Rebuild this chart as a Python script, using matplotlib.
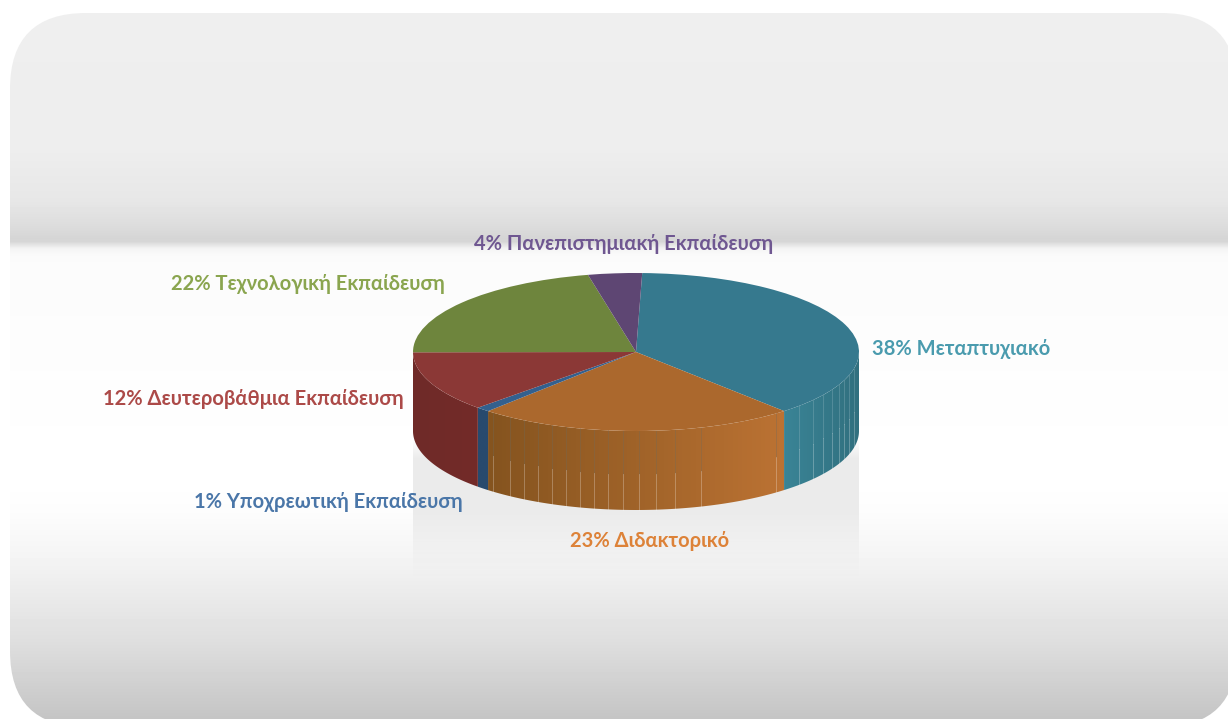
import numpy as np
import matplotlib
matplotlib.use("Agg")
import matplotlib.pyplot as plt
from matplotlib.colors import LinearSegmentedColormap
from matplotlib.patches import FancyBboxPatch, Polygon

W, H = 1228, 719

# Data
names = ["Μεταπτυχιακό", "Διδακτορικό", "Υποχρεωτική Εκπαίδευση",
         "Δευτεροβάθμια Εκπαίδευση", "Τεχνολογική Εκπαίδευση",
         "Πανεπιστημιακή Εκπαίδευση"]
values = [38.0, 23.1, 1.0, 12.4, 21.6, 3.9]  # slice sizes as drawn
percent_labels = [38, 23, 1, 12, 22, 4]

top_colors = ["#36798e", "#ab682d", "#33608e", "#8b3836", "#6e853d", "#5e4673"]
wall_left = ["#3a8496", "#85541f", "#284a6e", "#6f2a28", "#6f2a28", "#5e4673"]
wall_right = ["#31707f", "#bb7233", "#284a6e", "#732b29", "#732b29", "#5e4673"]
label_colors = ["#4a9bae", "#dd8238", "#4a76a8", "#ac4a48", "#8aa54f", "#6f5791"]

# label anchors in image pixels (left edge, vertical centre)
label_x = [872, 570, 194, 103, 171, 474]
label_y = [349, 541, 502, 399, 284, 244]

# background gradient, image row -> grey shade
bg_rows = [13, 150, 200, 225, 238, 241, 248, 256, 480, 510, 560, 640, 719]
bg_shades = [0.935, 0.931, 0.905, 0.865, 0.835, 0.838, 0.955, 0.984, 1.0, 0.99, 0.955, 0.873, 0.769]

# thin seams on the side wall (image x)
seams_orange = [493, 510, 524, 538, 552, 566, 580, 594, 608, 623, 639, 656, 675, 701, 776]
seams_teal = [799, 813, 823, 832, 839, 844, 849, 854]

# pie geometry in pixels
cx, cy, rx, ry, depth = 636, 352, 223, 79, 79
start = 88.4

plt.rcParams['font.family'] = ['Lato', 'Open Sans', 'DejaVu Sans']
fig = plt.figure(figsize=(W / 100, H / 100), dpi=100)
fig.patch.set_facecolor("white")

# Background panel, axes in image pixels
bg = fig.add_axes([0, 0, 1, 1])
bg.set_xlim(0, W)
bg.set_ylim(H, 0)
bg.axis("off")

shade = np.interp(np.arange(H), bg_rows, bg_shades)
img = bg.imshow(shade[:, None], cmap="gray", vmin=0, vmax=1, extent=(0, W, H, 0),
                aspect="auto", zorder=1)
pad = 76
panel = FancyBboxPatch((10 + pad, 13 + pad), 1237 - 10 - 2 * pad, 727 - 13 - 2 * pad,
                       boxstyle=f"round,pad={pad},rounding_size={pad}",
                       fc="none", ec="none", transform=bg.transData)
bg.add_patch(panel)
img.set_clip_path(panel)

# Reflection below the pie
fade = np.zeros((140, 1, 4))
fade[:, 0, :3] = 0.905
fade[:, 0, 3] = np.interp(np.arange(140), [0, 20, 75, 138], [0, 0.8, 0.75, 0])
bg.imshow(fade, extent=(413, 859, 578, 438), aspect="auto", zorder=2)
bg.set_xlim(0, W)
bg.set_ylim(H, 0)

for name, p, c, x, y in zip(names, percent_labels, label_colors, label_x, label_y):
    bg.text(x, y, f"{p}% {name}", color=c, fontsize=14.5, fontweight="bold",
            va="center", ha="left", zorder=5)

# Pie axes: one data unit = rx pixels across, ry pixels down
xr, yt, yb = 1.1, 1.1, -2.2
pos = [(cx - xr * rx) / W, 1 - (cy - yb * ry) / H, 2 * xr * rx / W, (yt - yb) * ry / H]
ax = fig.add_axes(pos)
ax.patch.set_alpha(0)

d = depth / ry
edges = start - np.cumsum([0] + values) * 3.6

for i in range(len(values)):
    a0, a1 = edges[i], edges[i + 1]
    # front half of the wall only
    hi = min(a0, 0)
    lo = max(a1, -180)
    if hi <= lo:
        continue
    t = np.radians(np.linspace(hi, lo, 80))
    xs, ys = np.cos(t), np.sin(t)
    outline = np.column_stack([np.r_[xs, xs[::-1]], np.r_[ys, ys[::-1] - d]])
    poly = Polygon(outline, fc="none", ec="none")
    ax.add_patch(poly)
    cmap = LinearSegmentedColormap.from_list("w", [wall_left[i], wall_right[i]])
    im = ax.imshow(np.linspace(0, 1, 64)[None, :], cmap=cmap, aspect="auto",
                   extent=(xs.min(), xs.max(), -1 - d, 1), zorder=1)
    im.set_clip_path(poly)

for seams, upper in ((seams_orange, "#6f6a5c"), (seams_teal, "#8fb6c0")):
    for px in seams:
        x = (px - cx) / rx
        y = -np.sqrt(1 - x ** 2)
        ax.plot([x, x], [y, y - 0.55 * d], color=upper, lw=0.6, alpha=0.4, zorder=2)
        ax.plot([x, x], [y - 0.55 * d, y - d], color="white", lw=0.6, alpha=0.3, zorder=2)

ax.pie(values, startangle=start, counterclock=False, colors=top_colors, radius=1,
       wedgeprops={"linewidth": 0, "zorder": 3})
ax.set_aspect("auto")
ax.set_xlim(-xr, xr)
ax.set_ylim(yb, yt)
ax.axis("off")

fig.savefig("out.png", dpi=100)
